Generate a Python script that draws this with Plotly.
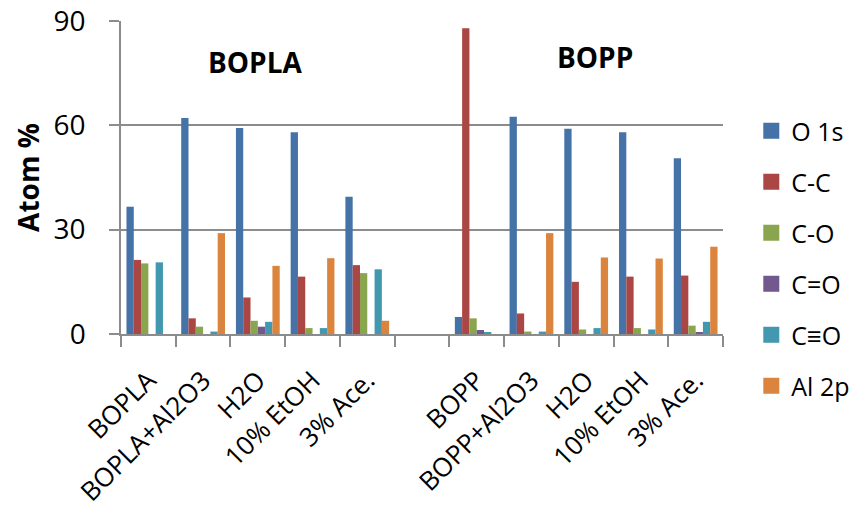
import plotly.graph_objects as go

# Sample categories (index 5 is an intentional empty spacer between the two film groups)
categories = ["BOPLA", "BOPLA+Al2O3", "H2O", "10% EtOH", "3% Ace.", "",
              "BOPP", "BOPP+Al2O3", "H2O", "10% EtOH", "3% Ace."]

# XPS atomic composition (Atom %)
o_1s  = [36.6, 62.1, 59.2, 58.0, 39.5, None, 4.9, 62.5, 59.0, 58.0, 50.5]
c_c   = [21.3, 4.5, 10.5, 16.5, 19.8, None, 87.9, 5.9, 15.0, 16.5, 16.8]
c_o   = [20.3, 2.1, 3.8, 1.7, 17.5, None, 4.5, 0.7, 1.3, 1.7, 2.4]
c_eq_o = [0, 0, 2.1, 0, 0, None, 1.15, 0, 0, 0, 0.5]
c_tr_o = [20.6, 0.7, 3.5, 1.7, 18.6, None, 0.5, 0.7, 1.7, 1.3, 3.5]
al_2p = [0, 29.0, 19.6, 21.8, 3.8, None, 0, 29.0, 22.0, 21.7, 25.1]

series_names = ["O 1s", "C-C", "C-O", "C=O", "C≡O", "Al 2p"]
series_values = [o_1s, c_c, c_o, c_eq_o, c_tr_o, al_2p]
colors = ["#4572A7", "#AA4643", "#89A54E", "#71588F", "#4198AF", "#DB843D"]

y_ticks = [0, 30, 60, 90]

font_family = "Open Sans, Liberation Sans, sans-serif"
grid_color = "#8c8c8c"

x_idx = list(range(len(categories)))

fig = go.Figure()
for name, vals, col in zip(series_names, series_values, colors):
    fig.add_trace(go.Bar(
        x=x_idx, y=vals, name=name, legendgroup=name, showlegend=False,
        marker=dict(color=col, line=dict(width=0)),
    ))
# Legend keys drawn as larger square swatches
for name, col in zip(series_names, colors):
    fig.add_trace(go.Scatter(
        x=[None], y=[None], mode="markers", name=name, legendgroup=name,
        marker=dict(symbol="square", size=16, color=col, line=dict(width=0)),
    ))

fig.update_layout(
    width=853, height=511,
    margin=dict(l=121, r=130, t=21, b=177, autoexpand=False),
    paper_bgcolor="white", plot_bgcolor="white",
    barmode="group", bargap=0.2, bargroupgap=0,
    font=dict(family=font_family, color="#000000"),
    showlegend=True,
    legend=dict(
        x=1.047, y=0.722, xanchor="left", yanchor="top",
        font=dict(size=25, family=font_family),
        tracegroupgap=15.5, itemwidth=30,
        bgcolor="rgba(0,0,0,0)",
    ),
    xaxis=dict(
        range=[-0.5, len(categories) - 0.5],
        tickmode="array", tickvals=x_idx, ticktext=categories,
        tickangle=-45, tickfont=dict(size=26, family=font_family),
        ticks="outside", ticklen=19, tickcolor="rgba(0,0,0,0)",
        showgrid=False, zeroline=False, automargin=False,
        showline=True, linecolor=grid_color, linewidth=1.5,
        minor=dict(
            tickmode="array",
            tickvals=[i - 0.5 for i in range(len(categories) + 1)],
            ticks="outside", ticklen=11, tickcolor=grid_color, tickwidth=1.5,
            showgrid=False,
        ),
    ),
    yaxis=dict(
        range=[0, 90], tickmode="array", tickvals=y_ticks,
        tickfont=dict(size=28, family=font_family),
        ticks="outside", ticklen=10, tickcolor=grid_color, tickwidth=1.5,
        ticklabelstandoff=18,
        showgrid=True, gridcolor=grid_color, gridwidth=1.5,
        zeroline=False, automargin=False,
        showline=True, linecolor=grid_color, linewidth=1.5,
        title=dict(text="<b>Atom %</b>", font=dict(size=28, family=font_family),
                   standoff=6),
    ),
)

fig.add_annotation(x=1.95, y=78.2, xref="x", yref="y", text="<b>BOPLA</b>",
                   showarrow=False, font=dict(size=28, family=font_family))
fig.add_annotation(x=8.16, y=79.7, xref="x", yref="y", text="<b>BOPP</b>",
                   showarrow=False, font=dict(size=28, family=font_family))

fig.write_html("out.html")
